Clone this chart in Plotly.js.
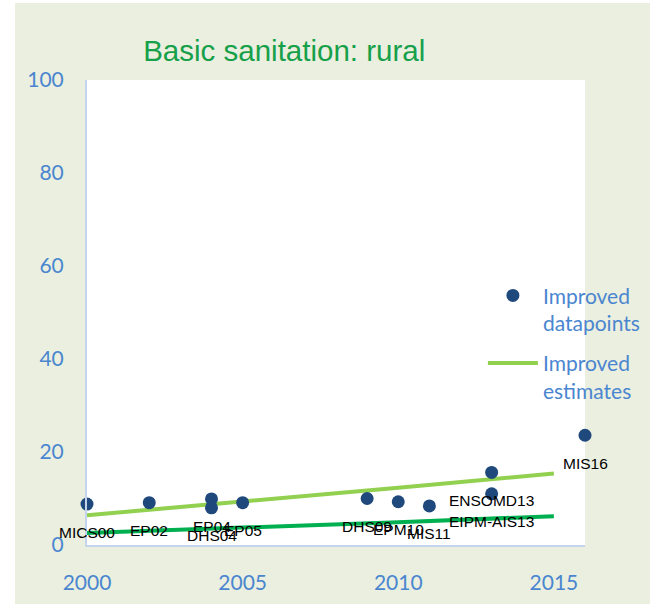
<!DOCTYPE html>
<html>
<head>
<meta charset="utf-8">
<script src="https://cdn.plot.ly/plotly-3.0.1.min.js"></script>
<style>
  html, body { margin: 0; padding: 0; background: #ffffff; }
  #chart { position: absolute; left: 15px; top: 3px; width: 635px; height: 601px; }
</style>
</head>
<body>
<div id="chart"></div>
<script>
// Survey datapoints
var pointYears  = [2000, 2002, 2004, 2004, 2005, 2009, 2010, 2011, 2013, 2013, 2016];
var pointValues = [8.8, 9.1, 9.9, 8.0, 9.1, 10.0, 9.3, 8.4, 15.6, 11.0, 23.6];
var pointLabels = ['MICS00', 'EP02', 'EP04', 'DHS04', 'EP05', 'DHS09', 'EPM10', 'MIS11', 'ENSOMD13', 'EIPM-AIS13', 'MIS16'];

// Estimates
var estYears = [2000, 2005, 2010, 2015];
var estImproved = [6.4, 9.3, 12.3, 15.4];
var estBasic = [2.6, 3.7, 4.9, 6.2];

// Axis ticks
var xTicks = [2000, 2005, 2010, 2015];
var yTicks = [0, 20, 40, 60, 80, 100];

var blueText = '#4a86d0';
var tickFont = { family: 'Lato, "Open Sans", sans-serif', size: 21, color: blueText };

var traces = [
  {
    x: estYears, y: estBasic, type: 'scatter', mode: 'lines',
    line: { color: '#00b050', width: 4 },
    showlegend: false, hoverinfo: 'skip', cliponaxis: false
  },
  {
    x: estYears, y: estImproved, type: 'scatter', mode: 'lines',
    line: { color: '#92d050', width: 4 },
    name: 'Improved<br>estimates', cliponaxis: false, legendrank: 2, legendgroup: 'est'
  },
  {
    x: pointYears, y: pointValues, type: 'scatter', mode: 'markers',
    marker: { color: '#1f497d', size: 13 },
    name: 'Improved<br>datapoints', cliponaxis: false, legendrank: 1, legendgroup: 'pts'
  }
];

var annotations = pointLabels.map(function (lab, i) {
  return {
    x: pointYears[i], y: pointValues[i], xref: 'x', yref: 'y',
    text: lab, showarrow: false, yshift: -28,
    xanchor: 'center', yanchor: 'middle',
    font: { family: '"Liberation Sans", Arial, sans-serif', size: 15.5, color: '#000000' }
  };
});

var layout = {
  width: 635, height: 601,
  margin: { l: 72, r: 65, t: 77, b: 59, autoexpand: false },
  paper_bgcolor: '#ebefdf',
  plot_bgcolor: '#ffffff',
  title: {
    text: 'Basic sanitation: rural',
    font: { family: '"Liberation Sans", Arial, sans-serif', size: 29.5, color: '#16a04a' },
    xref: 'paper', x: 0.396, xanchor: 'center',
    yref: 'container', y: 0.92, yanchor: 'middle'
  },
  xaxis: {
    range: [2000, 2016], tickvals: xTicks, ticktext: xTicks.map(String),
    showgrid: false, zeroline: false,
    showline: true, linecolor: '#c3d4ec', linewidth: 2,
    ticks: 'outside', ticklen: 18, tickcolor: 'rgba(0,0,0,0)',
    tickfont: tickFont
  },
  yaxis: {
    range: [0, 100], tickvals: yTicks, ticktext: yTicks.map(String),
    showgrid: false, zeroline: false,
    showline: true, linecolor: '#c3d4ec', linewidth: 2,
    ticks: 'outside', ticklen: 17, tickcolor: 'rgba(0,0,0,0)',
    tickfont: tickFont
  },
  legend: {
    x: 0.795, xanchor: 'left', y: 0.58, yanchor: 'top',
    bgcolor: 'rgba(0,0,0,0)', borderwidth: 0,
    font: { family: 'Lato, "Open Sans", sans-serif', size: 21, color: blueText },
    valign: 'top', itemwidth: 50, tracegroupgap: 10
  },
  annotations: annotations,
  showlegend: true
};

Plotly.newPlot('chart', traces, layout, { displayModeBar: false, staticPlot: true });
</script>
</body>
</html>
